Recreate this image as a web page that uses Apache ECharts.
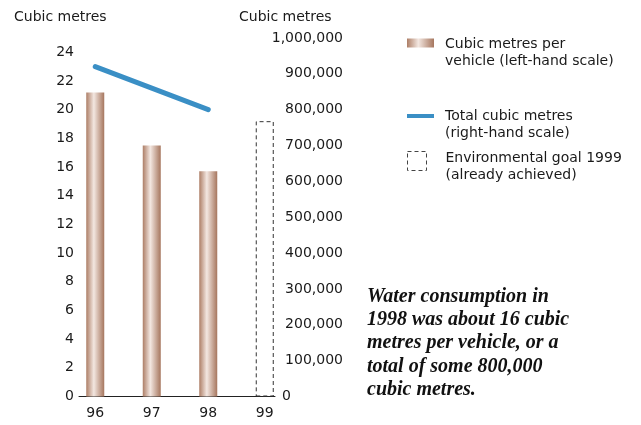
<!DOCTYPE html>
<html>
<head>
<meta charset="utf-8">
<script src="https://cdn.jsdelivr.net/npm/echarts@6/dist/echarts.min.js"></script>
<style>
  html, body { margin: 0; padding: 0; background: #fff; }
  #chart { width: 641px; height: 425px; }
</style>
</head>
<body>
<div id="chart"></div>
<script>
// data
const years = ['96', '97', '98', '99'];
const perVehicle = [21.2, 17.5, 15.7, '-'];        // left-hand scale
const goal1999 = ['-', '-', '-', 19.2];            // dashed box, left-hand scale
const totalCubic = [920000, 860000, 800000, '-'];  // right-hand scale
const leftTicks = { min: 0, max: 25, step: 2 };
const rightTicks = { min: 0, max: 1000000, step: 100000 };

const names = {
  bar: 'Cubic metres per\nvehicle (left-hand scale)',
  line: 'Total cubic metres\n(right-hand scale)',
  goal: 'Environmental goal 1999\n(already achieved)'
};

const sans = '"DejaVu Sans", sans-serif';
const ink = '#1a1a1a';

const chart = echarts.init(document.getElementById('chart'));

const barFill = new echarts.graphic.LinearGradient(0, 0, 1, 0, [
  { offset: 0, color: '#ad7e66' },
  { offset: 0.42, color: '#f3e7e1' },
  { offset: 1, color: '#a6765e' }
]);

function fmt(v) {
  return String(v).replace(/\B(?=(\d{3})+(?!\d))/g, ',');
}

// legend text: a spacer line on top pushes the first line down to the icon
function legendStyle(spacer, gap) {
  return {
    rich: {
      s: { lineHeight: spacer, fontSize: 1 },
      a: { color: ink, fontSize: 14, fontFamily: sans, lineHeight: 17, padding: [0, 0, 0, gap] }
    }
  };
}
function legendLabel(name) {
  return '{s| }\n{a|' + name.split('\n').join('}\n{a|') + '}';
}

let option = {
  animation: false,
  title: [
    { text: 'Cubic metres', left: 9, top: 5, textStyle: { color: ink, fontSize: 14, fontWeight: 'normal', fontFamily: sans } },
    { text: 'Cubic metres', left: 234, top: 5, textStyle: { color: ink, fontSize: 14, fontWeight: 'normal', fontFamily: sans } },
    {
      text: 'Water consumption in\n1998 was about 16 cubic\nmetres per vehicle, or a\ntotal of some 800,000\ncubic metres.',
      left: 362, top: 280,
      textStyle: {
        color: '#111', fontSize: 20, fontStyle: 'italic', fontWeight: 'bold',
        fontFamily: '"Liberation Serif", serif', lineHeight: 23.3
      }
    }
  ],
  legend: [
    {
      data: [{ name: names.bar, icon: 'rect' }],
      left: 407, top: 25.5, padding: 0, itemWidth: 27, itemHeight: 9,
      selectedMode: false,
      formatter: legendLabel,
      textStyle: legendStyle(20, 6)
    },
    {
      data: [{ name: names.line, icon: 'rect' }],
      left: 407, top: 98.5, padding: 0, itemWidth: 27, itemHeight: 4,
      selectedMode: false,
      formatter: legendLabel,
      textStyle: legendStyle(17, 6)
    },
    {
      data: [{
        name: names.goal, icon: 'rect',
        itemStyle: { color: 'rgba(0,0,0,0)', borderColor: '#444', borderWidth: 1, borderType: [4, 3] }
      }],
      left: 407, top: 143.5, padding: 0, itemWidth: 19, itemHeight: 19,
      selectedMode: false,
      formatter: legendLabel,
      textStyle: legendStyle(11, 14)
    }
  ],
  grid: [
    { left: 67, right: 348, top: 38, bottom: 28.5 },
    // only carries the shorter base line under the bars
    { left: 79, right: 366, top: 38, bottom: 28.5 }
  ],
  xAxis: [
    {
      type: 'category',
      data: years,
      axisLine: { show: false },
      axisTick: { show: false },
      axisLabel: { color: ink, fontSize: 14, fontFamily: sans, margin: 10 }
    },
    {
      gridIndex: 1,
      type: 'value',
      min: 0, max: 1,
      axisLine: { show: true, lineStyle: { color: '#222', width: 1 } },
      axisTick: { show: false },
      axisLabel: { show: false },
      splitLine: { show: false }
    }
  ],
  yAxis: [
    {
      type: 'value',
      min: leftTicks.min, max: leftTicks.max, interval: leftTicks.step,
      splitLine: { show: false },
      axisLine: { show: false },
      axisTick: { show: false },
      axisLabel: { color: ink, fontSize: 14, fontFamily: sans, margin: -7, showMaxLabel: false }
    },
    {
      type: 'value',
      position: 'right',
      min: rightTicks.min, max: rightTicks.max, interval: rightTicks.step,
      splitLine: { show: false },
      axisLine: { show: false },
      axisTick: { show: false },
      axisLabel: {
        color: ink, fontSize: 14, fontFamily: sans, margin: 50, align: 'right',
        formatter: function (v) { return v === 0 ? '{z|0}' : fmt(v); },
        rich: { z: { width: 61, align: 'left', color: ink, fontSize: 14, fontFamily: sans } }
      }
    },
    { gridIndex: 1, type: 'value', min: 0, max: 1, show: false }
  ],
  series: [
    {
      name: names.bar,
      type: 'bar',
      data: perVehicle,
      barWidth: 18,
      barGap: '-100%',
      itemStyle: { color: barFill }
    },
    {
      name: names.goal,
      type: 'bar',
      data: goal1999,
      barWidth: 18,
      barGap: '-100%',
      itemStyle: { color: 'rgba(0,0,0,0)', borderColor: '#333', borderWidth: 1, borderType: [4, 3] }
    },
    {
      name: names.line,
      type: 'line',
      yAxisIndex: 1,
      data: totalCubic,
      showSymbol: false,
      symbol: 'none',
      itemStyle: { color: '#3a8fc5' },
      lineStyle: { color: '#3a8fc5', width: 5, cap: 'round', join: 'round' }
    }
  ]
};

chart.setOption(option);
</script>
</body>
</html>
